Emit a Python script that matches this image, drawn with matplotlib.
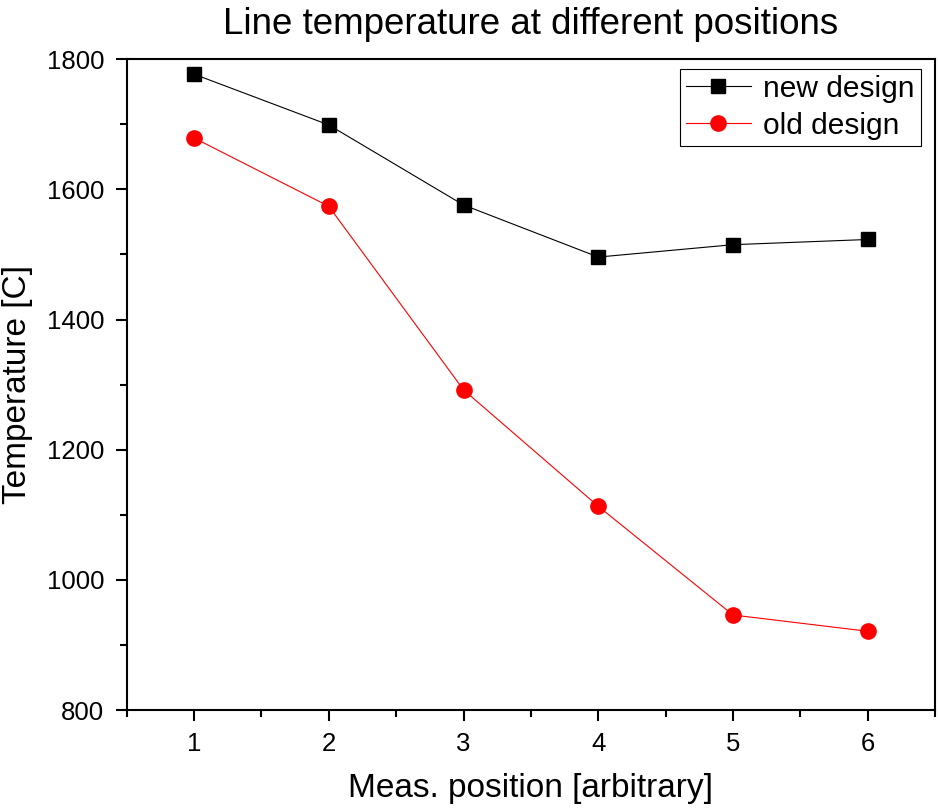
import matplotlib
matplotlib.use("Agg")
import matplotlib.pyplot as plt
from matplotlib.ticker import MultipleLocator

plt.rcParams["font.family"] = ["Liberation Sans", "DejaVu Sans"]

positions = [1, 2, 3, 4, 5, 6]
new_design = [1777, 1699, 1576, 1496, 1515, 1523]
old_design = [1679, 1574, 1292, 1113, 946, 921]

fig = plt.figure(figsize=(9.38, 8.11), dpi=100)
ax = fig.add_axes([0.135, 0.1245, 0.862, 0.8025])

ax.plot(positions, new_design, color="black", lw=0.8, marker="s", ms=10,
        label="new design")
ax.plot(positions, old_design, color="red", lw=0.8, marker="o", ms=11,
        label="old design")

ax.set_xlim(0.5, 6.5)
ax.set_ylim(800, 1800)
ax.xaxis.set_major_locator(MultipleLocator(1))
ax.xaxis.set_minor_locator(MultipleLocator(0.5))
ax.yaxis.set_major_locator(MultipleLocator(200))
ax.yaxis.set_minor_locator(MultipleLocator(100))
ax.tick_params(which="major", direction="out", length=8, width=1.5,
               labelsize=18.5, pad=8)
ax.tick_params(which="minor", direction="out", length=5, width=1.5)
for s in ax.spines.values():
    s.set_linewidth(1.5)

ax.set_title("Line temperature at different positions", fontsize=26.5, pad=18)
ax.set_xlabel("Meas. position [arbitrary]", fontsize=24, labelpad=12)
ax.set_ylabel("Temperature [C]", fontsize=24, labelpad=10)

leg = ax.legend(loc="upper right", fontsize=21.5, fancybox=False,
                edgecolor="black", framealpha=1, handlelength=2.2,
                borderpad=0.2, labelspacing=0.3, handletextpad=0.4,
                borderaxespad=0, bbox_to_anchor=(0.982, 0.985))
leg.get_frame().set_linewidth(0.8)

fig.savefig("out.png", dpi=100)
